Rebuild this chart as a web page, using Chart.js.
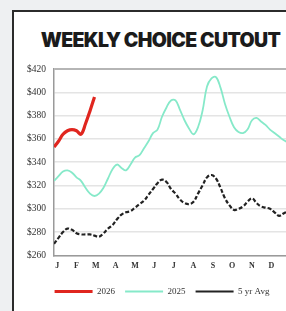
<!DOCTYPE html>
<html>
<head>
<meta charset="utf-8">
<script src="https://cdn.jsdelivr.net/npm/chart.js@4"></script>
<style>
  html, body { margin: 0; padding: 0; overflow: hidden; background: #eef0f2; }
  .card { position: absolute; left: 12px; top: 10px; width: 330px; height: 320px; border: 2px solid #2b2b2b; background: #fff; }
  .title { position: absolute; left: 0; top: 28px; width: 321px; text-align: center; font-family: Inter, "Liberation Sans", sans-serif; font-weight: 900; font-size: 19.5px; letter-spacing: -0.6px; color: #1b1b1b; white-space: nowrap; }
  .wrap { position: absolute; left: 14px; top: 55px; width: 296px; height: 251px; }
</style>
</head>
<body>
<div class="card"></div>
<div class="title">WEEKLY CHOICE CUTOUT</div>
<div class="wrap"><canvas id="chart"></canvas></div>
<script>
document.addEventListener('DOMContentLoaded', function() {
    // valeurs ($/cwt, une par semaine)
    const serie2026 = [353, 358, 364, 367, 368, 367, 364, 373, 384, 396];
    const serie2025 = [324, 328, 332, 333, 331, 327, 324, 318, 313, 311, 313, 318, 326, 334, 338, 335,
        333, 338, 344, 346, 352, 358, 365, 368, 379, 387, 393, 393, 385, 376, 369, 364, 370, 384,
        405, 412, 413, 404, 390, 379, 370, 366, 365, 368, 376, 378, 375, 372, 368, 365, 362, 359, 357];
    const moyenne5ans = [270, 275, 280, 283, 282, 279, 278, 278, 278, 277, 276, 279, 283, 286, 291, 295,
        297, 298, 301, 304, 307, 312, 317, 322, 325, 323, 317, 313, 308, 305, 304, 306, 313, 320,
        327, 329, 326, 318, 309, 303, 299, 300, 302, 306, 309, 305, 302, 301, 300, 297, 294, 296, 298];
    const mois = ['J', 'F', 'M', 'A', 'M', 'J', 'J', 'A', 'S', 'O', 'N', 'D'];
    const semaineMois = [0.7, 5, 9.3, 13.7, 18, 22.3, 26.6, 31, 35.3, 39.6, 44, 48.3];

    const points = arr => arr.map((v, i) => ({ x: i, y: v }));

    // la légende est centrée sur la carte, pas sur le graphique
    const decaleLegende = {
        id: 'decaleLegende',
        afterLayout(chart) {
            chart.legend.left += 11;
            chart.legend.right += 11;
        }
    };

    const ctx = document.getElementById('chart').getContext('2d');
    new Chart(ctx, {
        type: 'line',
        data: {
            datasets: [
                {
                    label: '2026',
                    data: points(serie2026),
                    borderColor: '#e0261f',
                    borderWidth: 3.2,
                    pointRadius: 0,
                    tension: 0.4
                },
                {
                    label: '2025',
                    data: points(serie2025),
                    borderColor: '#86e9c9',
                    borderWidth: 1.8,
                    pointRadius: 0,
                    tension: 0.4
                },
                {
                    label: '5 yr Avg',
                    data: points(moyenne5ans),
                    borderColor: '#222',
                    borderWidth: 2.2,
                    borderDash: [4, 2],
                    pointRadius: 0,
                    tension: 0.4
                }
            ]
        },
        options: {
            responsive: true,
            maintainAspectRatio: false,
            animation: false,
            layout: { padding: { top: 14, right: 22, left: 0, bottom: 0 } },
            plugins: {
                tooltip: { enabled: false },
                legend: {
                    position: 'bottom',
                    labels: {
                        usePointStyle: true,
                        pointStyle: 'line',
                        pointStyleWidth: 38,
                        padding: 10,
                        color: '#333',
                        font: { family: '"Liberation Serif", serif', size: 9 }
                    }
                }
            },
            scales: {
                x: {
                    type: 'linear',
                    min: 0,
                    max: 52,
                    grid: { display: false, drawTicks: false },
                    border: { display: true, color: '#9a9a9a', width: 1.5 },
                    afterBuildTicks: scale => { scale.ticks = semaineMois.map(v => ({ value: v })); },
                    ticks: {
                        autoSkip: false,
                        maxRotation: 0,
                        padding: 6,
                        color: '#333',
                        font: { family: '"Liberation Serif", serif', size: 8, weight: 'bold' },
                        callback: (v, i) => mois[i]
                    }
                },
                y: {
                    min: 260,
                    max: 420,
                    afterFit: scale => { scale.width = 40; },
                    grid: {
                        drawTicks: false,
                        color: c => c.tick && c.tick.value === 420 ? '#b5b5b5' : '#e4e4e4',
                        lineWidth: c => c.tick && c.tick.value === 420 ? 2 : 1.5
                    },
                    border: { display: true, color: '#9a9a9a', width: 1.5 },
                    ticks: {
                        stepSize: 20,
                        padding: 8,
                        color: '#333',
                        font: { family: '"Liberation Serif", serif', size: 9.5 },
                        callback: v => '$' + v
                    }
                }
            }
        },
        plugins: [decaleLegende]
    });
});
</script>
</body>
</html>
